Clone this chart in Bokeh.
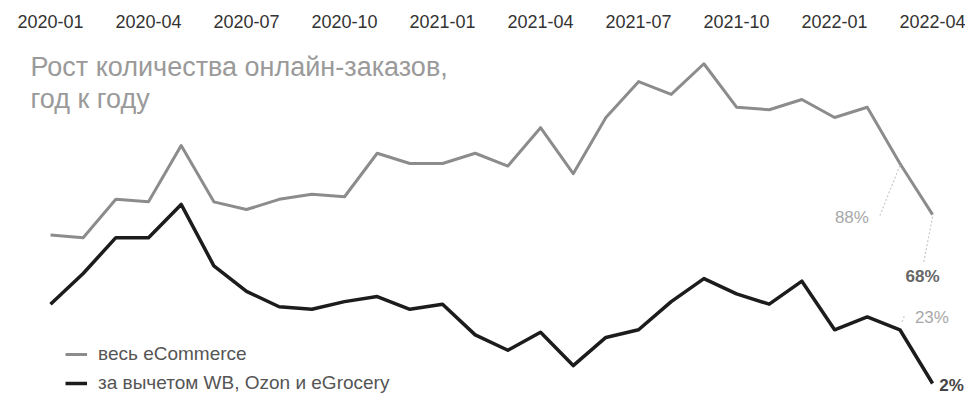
from bokeh.plotting import figure
from bokeh.models import Range1d, Label, Legend, LegendItem, ColumnDataSource
from bokeh.core.properties import value
from bokeh.embed import file_html
from bokeh.resources import INLINE

# ---- data ----
months = ["2020-01", "2020-02", "2020-03", "2020-04", "2020-05", "2020-06", "2020-07",
          "2020-08", "2020-09", "2020-10", "2020-11", "2020-12", "2021-01", "2021-02",
          "2021-03", "2021-04", "2021-05", "2021-06", "2021-07", "2021-08", "2021-09",
          "2021-10", "2021-11", "2021-12", "2022-01", "2022-02", "2022-03", "2022-04"]
ecommerce = [60, 59, 74, 73, 95, 73, 70, 74, 76, 75, 92, 88, 88, 92, 87, 102, 84, 106,
             120, 115, 127, 110, 109, 113, 106, 110, 88, 68]
ex_wb_ozon = [33, 45, 59, 59, 72, 48, 38, 32, 31, 34, 36, 31, 33, 21, 15, 22, 9, 20,
              23, 34, 43, 37, 33, 42, 23, 28, 23, 2]
tick_idx = [0, 3, 6, 9, 12, 15, 18, 21, 24, 27]
tick_labels = [months[i] for i in tick_idx]
series_names = ["весь eCommerce", "за вычетом WB, Ozon и eGrocery"]
title_lines = ["Рост количества онлайн-заказов,", "год к году"]

# ---- layout helpers (canvas pixels -> data) ----
PX_M = 32.67      # px per month
PX_V = 2.558      # px per percentage point
X0 = 50.0         # canvas x of first month
Y0 = 388.1        # canvas y of value 0


def xd(px):
    return (px - X0) / PX_M


def yd(py):
    return (Y0 - py) / PX_V


W, H = 965, 395
x = list(range(len(months)))

p = figure(width=W, height=H, output_backend="svg", toolbar_location=None,
           x_range=Range1d(xd(0), xd(W)), y_range=Range1d(yd(H), yd(0)),
           x_axis_location=None, y_axis_location=None,
           min_border_left=0, min_border_right=0, min_border_top=0, min_border_bottom=0)
p.outline_line_color = None
p.xgrid.visible = False
p.ygrid.visible = False
p.background_fill_color = "white"
p.border_fill_color = "white"

# month labels along the top
tick_src = ColumnDataSource(dict(x=tick_idx, y=[yd(21)] * len(tick_idx), t=tick_labels))
p.text(x="x", y="y", text="t", source=tick_src, text_font=value("Liberation Sans"),
       text_font_size="18px", text_color="#333333", text_align="center",
       text_baseline="middle")

g = p.line(x, ecommerce, line_color="#8c8c8c", line_width=3, line_join="round")
b = p.line(x, ex_wb_ozon, line_color="#1c1c1c", line_width=3.5, line_join="round")

legend = Legend(items=[LegendItem(label=series_names[0], renderers=[g]),
                       LegendItem(label=series_names[1], renderers=[b])],
                location=(65, 1), orientation="vertical",
                glyph_width=22, glyph_height=16, label_height=16, spacing=7,
                padding=0, margin=0, label_standoff=11,
                label_text_font="Liberation Sans", label_text_font_size="19px",
                label_text_color="#555555",
                border_line_color=None, background_fill_alpha=0)
p.add_layout(legend)

# title
for line, py in zip(title_lines, [66, 98]):
    p.add_layout(Label(x=xd(30), y=yd(py), text=line, text_font="Liberation Sans",
                       text_font_size="27px", text_color="#9a9a9a",
                       text_baseline="middle", text_align="left"))

# end annotations
last, prev = len(months) - 1, len(months) - 2
ann = [
    # (index, value, label dx px, label dy px, text, color, bold, leader)
    (prev, ecommerce[prev], -48, 54, f"{ecommerce[prev]}%", "#a8a8a8", False, (-20, 52)),
    (last, ecommerce[last], -10, 62, f"{ecommerce[last]}%", "#666666", True, (-9, 48)),
    (prev, ex_wb_ozon[prev], 32, -12, f"{ex_wb_ozon[prev]}%", "#a8a8a8", False, (5, -15)),
    (last, ex_wb_ozon[last], 19, 2, f"{ex_wb_ozon[last]}%", "#444444", True, None),
]
for i, v, lx, ly, txt, col, bold, lead in ann:
    px0 = X0 + i * PX_M
    py0 = Y0 - v * PX_V
    if lead is not None:
        sx = 2 if lead[1] < 0 else 0
        p.segment(x0=[xd(px0 + sx)], y0=[yd(py0 - 8 if lead[1] < 0 else py0 + 2)],
                  x1=[xd(px0 + lead[0])], y1=[yd(py0 + lead[1])],
                  line_color="#c8c8c8", line_width=1.2, line_dash="2 2")
    p.add_layout(Label(x=xd(px0 + lx), y=yd(py0 + ly), text=txt,
                       text_font="Liberation Sans", text_font_size="17px",
                       text_font_style="bold" if bold else "normal",
                       text_color=col, text_baseline="middle", text_align="center"))

open("out.html", "w").write(file_html(p, INLINE))
